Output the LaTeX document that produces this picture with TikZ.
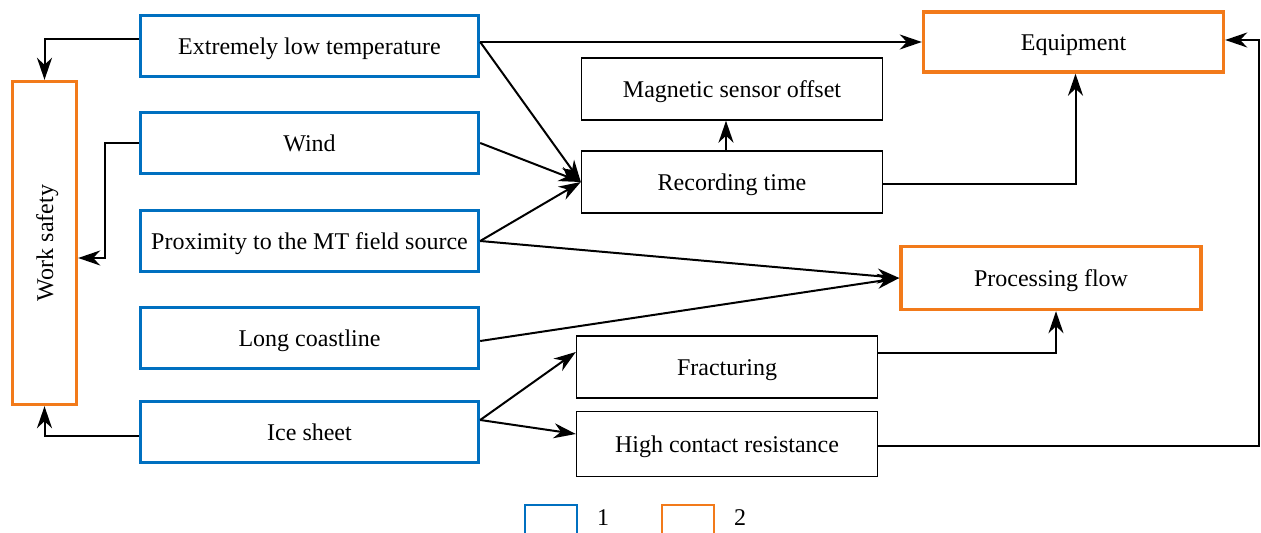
\documentclass[tikz,border=0pt]{standalone}
\usepackage{fontspec}
\setmainfont{Liberation Serif}
\usetikzlibrary{arrows.meta,
                positioning}
\definecolor{factblue}{RGB}{0,112,192}
\definecolor{factorange}{RGB}{242,122,26}

\begin{document}
\begin{tikzpicture}[x=0.5pt,y=-0.5pt,
       font=\fontsize{12}{14}\selectfont,
       box/.style={text height=9pt, text depth=0.4pt},
       factor/.style={box, draw=factblue, line width=1.7pt, minimum width=169pt, minimum height=30.5pt},
       effect/.style={box, draw=factorange, line width=1.7pt, minimum width=150pt, minimum height=30pt},
       sub/.style={box, draw, line width=0.7pt, minimum width=150.5pt, minimum height=31pt},
       arr/.style={-{Stealth[length=11pt,width=7.5pt,inset=3.5pt]}, line width=1pt}]
       \clip (0,0) rectangle (1261,533);
       % sources
       \node at (309.5,46) [factor] (temp) {Extremely low temperature};
       \node at (309.5,143) [factor] (wind) {Wind};
       \node at (309.5,241) [factor] (prox) {Proximity to the MT field source};
       \node at (309.5,338) [factor] (coast) {Long coastline};
       \node at (309.5,432) [factor] (ice) {Ice sheet};
       % consequences
       \node at (44.5,243) [effect, minimum width=161.5pt, minimum height=32pt, rotate=90] (safety) {Work safety};
       \node at (1073.5,42) [effect] (equip) {Equipment};
       \node at (1051,278) [effect, minimum height=31.5pt] (proc) {Processing flow};
       \node at (732,89) [sub] (mag) {Magnetic sensor offset};
       \node at (732,182) [sub] (rec) {Recording time};
       \node at (727,367) [sub] (frac) {Fracturing};
       \node at (727,444) [sub, minimum height=32.5pt] (hcr) {High contact resistance};
       % legend
       \node at (551,525) [draw=factblue, line width=1pt, minimum width=26pt, minimum height=20pt] (leg1) {};
       \node [right=6pt of leg1.north east, anchor=north west, yshift=0.5pt] (lab1) {1};
       \node at (688,525) [draw=factorange, line width=1pt, minimum width=26pt, minimum height=20pt] (leg2) {};
       \node [right=6pt of leg2.north east, anchor=north west, yshift=0.5pt] (lab2) {2};
       % links to work safety
       \draw[arr] ([yshift=3.5pt]temp.west) -| (safety.east);
       \draw[arr] (wind.west) -- ++(-34,0) |- ([yshift=-7.5pt]safety.south);
       \draw[arr] ([yshift=-2pt]ice.west) -| (safety.west);
       % links to the right
       \draw[arr] ([yshift=2pt]temp.east) -- (equip.west);
       \draw[arr] ([yshift=2pt]temp.east) -- (rec.west);
       \draw[arr] (wind.east) -- (rec.west);
       \draw[arr] (prox.east) -- (rec.west);
       \draw[arr] (prox.east) -- (proc.west);
       \draw[arr] ([yshift=-1.5pt]coast.east) -- (proc.west);
       \draw[arr] ([xshift=-3pt]rec.north) -- ([xshift=-3pt]mag.south);
       \draw[arr] ([yshift=-1pt]rec.east) -| ([xshift=1pt]equip.south);
       \draw[arr] ([yshift=7pt]frac.east) -| ([xshift=2.5pt]proc.south);
       \coordinate (rside) at (1259,446);
       \draw[arr] ([yshift=-1pt]hcr.east) -- (rside) |- ([yshift=1pt]equip.east);
       \draw[arr] ([yshift=6pt]ice.east) -- ([yshift=7.5pt]frac.west);
       \draw[arr] ([yshift=6pt]ice.east) -- ([yshift=5pt]hcr.west);
\end{tikzpicture}
\end{document}
